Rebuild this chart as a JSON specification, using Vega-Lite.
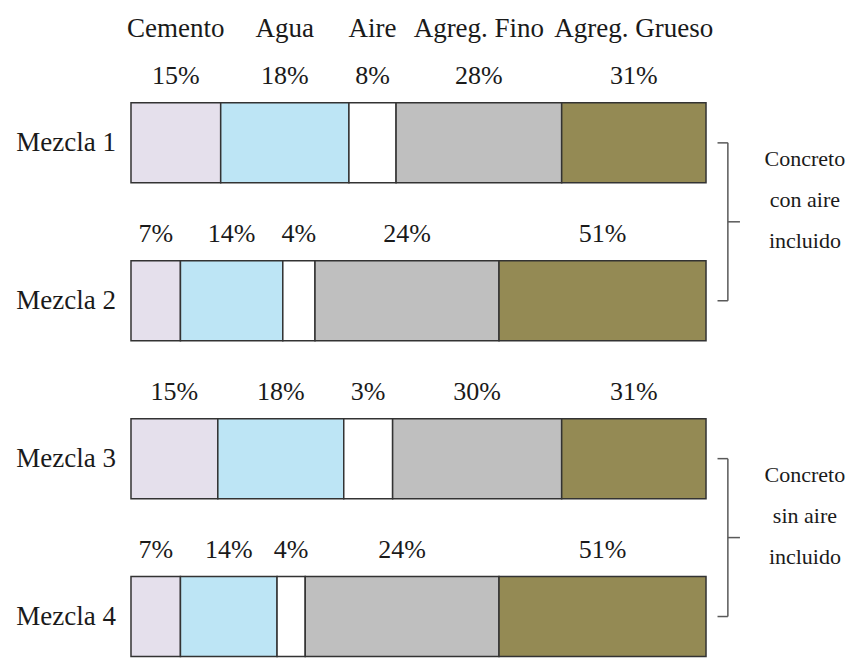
{
  "$schema": "https://vega.github.io/schema/vega-lite/v6.json",
  "width": 863,
  "height": 658,
  "padding": 0,
  "autosize": {"type": "none"},
  "background": "white",
  "config": {
    "view": {"stroke": null},
    "text": {"font": "Liberation Serif", "color": "#1a1a1a"}
  },
  "datasets": {
    "segmentos": [
      {"mezcla": 1, "componente": "Cemento", "inicio": 0, "fin": 15.6, "porcentaje": 0.15},
      {"mezcla": 1, "componente": "Agua", "inicio": 15.6, "fin": 37.9, "porcentaje": 0.18},
      {"mezcla": 1, "componente": "Aire", "inicio": 37.9, "fin": 46.1, "porcentaje": 0.08},
      {"mezcla": 1, "componente": "Agreg. Fino", "inicio": 46.1, "fin": 74.9, "porcentaje": 0.28},
      {"mezcla": 1, "componente": "Agreg. Grueso", "inicio": 74.9, "fin": 100, "porcentaje": 0.31},
      {"mezcla": 2, "componente": "Cemento", "inicio": 0, "fin": 8.6, "porcentaje": 0.07},
      {"mezcla": 2, "componente": "Agua", "inicio": 8.6, "fin": 26.4, "porcentaje": 0.14},
      {"mezcla": 2, "componente": "Aire", "inicio": 26.4, "fin": 32.0, "porcentaje": 0.04},
      {"mezcla": 2, "componente": "Agreg. Fino", "inicio": 32.0, "fin": 64.0, "porcentaje": 0.24},
      {"mezcla": 2, "componente": "Agreg. Grueso", "inicio": 64.0, "fin": 100, "porcentaje": 0.51},
      {"mezcla": 3, "componente": "Cemento", "inicio": 0, "fin": 15.1, "porcentaje": 0.15},
      {"mezcla": 3, "componente": "Agua", "inicio": 15.1, "fin": 37.0, "porcentaje": 0.18},
      {"mezcla": 3, "componente": "Aire", "inicio": 37.0, "fin": 45.5, "porcentaje": 0.03},
      {"mezcla": 3, "componente": "Agreg. Fino", "inicio": 45.5, "fin": 74.9, "porcentaje": 0.30},
      {"mezcla": 3, "componente": "Agreg. Grueso", "inicio": 74.9, "fin": 100, "porcentaje": 0.31},
      {"mezcla": 4, "componente": "Cemento", "inicio": 0, "fin": 8.6, "porcentaje": 0.07},
      {"mezcla": 4, "componente": "Agua", "inicio": 8.6, "fin": 25.4, "porcentaje": 0.14},
      {"mezcla": 4, "componente": "Aire", "inicio": 25.4, "fin": 30.3, "porcentaje": 0.04},
      {"mezcla": 4, "componente": "Agreg. Fino", "inicio": 30.3, "fin": 64.0, "porcentaje": 0.24},
      {"mezcla": 4, "componente": "Agreg. Grueso", "inicio": 64.0, "fin": 100, "porcentaje": 0.51}
    ],
    "mezclas": [
      {"mezcla": 1, "nombre": "Mezcla 1"},
      {"mezcla": 2, "nombre": "Mezcla 2"},
      {"mezcla": 3, "nombre": "Mezcla 3"},
      {"mezcla": 4, "nombre": "Mezcla 4"}
    ],
    "grupos": [
      {"grupo": "con", "desde": 1, "hasta": 2, "texto": ["Concreto", "con aire", "incluido"]},
      {"grupo": "sin", "desde": 3, "hasta": 4, "texto": ["Concreto", "sin aire", "incluido"]}
    ]
  },
  "layer": [
    {
      "data": {"name": "segmentos"},
      "mark": {"type": "bar", "size": 80, "stroke": "#333333", "strokeWidth": 1.5},
      "encoding": {
        "x": {"field": "inicio", "type": "quantitative", "axis": null, "scale": {"domain": [-22.78, 127.3], "nice": false, "zero": false}},
        "x2": {"field": "fin"},
        "y": {"field": "mezcla", "type": "quantitative", "axis": null, "scale": {"domain": [0.1268, 4.231], "nice": false, "zero": false, "reverse": true}},
        "color": {
          "field": "componente",
          "type": "nominal",
          "legend": null,
          "scale": {
            "domain": ["Cemento", "Agua", "Aire", "Agreg. Fino", "Agreg. Grueso"],
            "range": ["#E5E0EC", "#BDE5F5", "#FFFFFF", "#BFBFBF", "#948A54"]
          }
        }
      }
    },
    {
      "data": {"name": "segmentos"},
      "transform": [{"calculate": "(datum.inicio + datum.fin) / 2", "as": "medio"}],
      "mark": {"type": "text", "fontSize": 26, "baseline": "middle", "align": "center", "dy": -67},
      "encoding": {
        "x": {"field": "medio", "type": "quantitative", "axis": null, "scale": {"domain": [-22.78, 127.3], "nice": false, "zero": false}},
        "y": {"field": "mezcla", "type": "quantitative", "axis": null, "scale": {"domain": [0.1268, 4.231], "nice": false, "zero": false, "reverse": true}},
        "text": {"field": "porcentaje", "type": "quantitative", "format": ".0%"}
      }
    },
    {
      "data": {"name": "segmentos"},
      "transform": [
        {"filter": "datum.mezcla == 1"},
        {"calculate": "(datum.inicio + datum.fin) / 2", "as": "medio"}
      ],
      "mark": {"type": "text", "fontSize": 27, "baseline": "middle", "align": "center", "dy": -114},
      "encoding": {
        "x": {"field": "medio", "type": "quantitative", "axis": null, "scale": {"domain": [-22.78, 127.3], "nice": false, "zero": false}},
        "y": {"field": "mezcla", "type": "quantitative", "axis": null, "scale": {"domain": [0.1268, 4.231], "nice": false, "zero": false, "reverse": true}},
        "text": {"field": "componente", "type": "nominal"}
      }
    },
    {
      "data": {"name": "mezclas"},
      "mark": {"type": "text", "fontSize": 27, "baseline": "middle", "align": "right"},
      "encoding": {
        "x": {"datum": -2.6, "type": "quantitative", "axis": null, "scale": {"domain": [-22.78, 127.3], "nice": false, "zero": false}},
        "y": {"field": "mezcla", "type": "quantitative", "axis": null, "scale": {"domain": [0.1268, 4.231], "nice": false, "zero": false, "reverse": true}},
        "text": {"field": "nombre", "type": "nominal"}
      }
    },
    {
      "data": {"name": "grupos"},
      "mark": {"type": "rule", "stroke": "#595959", "strokeWidth": 1.5},
      "encoding": {
        "x": {"datum": 103.8, "type": "quantitative", "axis": null, "scale": {"domain": [-22.78, 127.3], "nice": false, "zero": false}},
        "y": {"field": "desde", "type": "quantitative", "axis": null, "scale": {"domain": [0.1268, 4.231], "nice": false, "zero": false, "reverse": true}},
        "y2": {"field": "hasta"}
      }
    },
    {
      "data": {"name": "grupos"},
      "mark": {"type": "rule", "stroke": "#595959", "strokeWidth": 1.5},
      "encoding": {
        "x": {"datum": 102.0, "type": "quantitative", "axis": null, "scale": {"domain": [-22.78, 127.3], "nice": false, "zero": false}},
        "x2": {"datum": 103.8},
        "y": {"field": "desde", "type": "quantitative", "axis": null, "scale": {"domain": [0.1268, 4.231], "nice": false, "zero": false, "reverse": true}}
      }
    },
    {
      "data": {"name": "grupos"},
      "mark": {"type": "rule", "stroke": "#595959", "strokeWidth": 1.5},
      "encoding": {
        "x": {"datum": 102.0, "type": "quantitative", "axis": null, "scale": {"domain": [-22.78, 127.3], "nice": false, "zero": false}},
        "x2": {"datum": 103.8},
        "y": {"field": "hasta", "type": "quantitative", "axis": null, "scale": {"domain": [0.1268, 4.231], "nice": false, "zero": false, "reverse": true}}
      }
    },
    {
      "data": {"name": "grupos"},
      "transform": [{"calculate": "(datum.desde + datum.hasta) / 2", "as": "medio"}],
      "mark": {"type": "rule", "stroke": "#595959", "strokeWidth": 1.5},
      "encoding": {
        "x": {"datum": 103.8, "type": "quantitative", "axis": null, "scale": {"domain": [-22.78, 127.3], "nice": false, "zero": false}},
        "x2": {"datum": 105.9},
        "y": {"field": "medio", "type": "quantitative", "axis": null, "scale": {"domain": [0.1268, 4.231], "nice": false, "zero": false, "reverse": true}}
      }
    },
    {
      "data": {"name": "grupos"},
      "transform": [{"calculate": "(datum.desde + datum.hasta) / 2", "as": "medio"}],
      "mark": {"type": "text", "fontSize": 22, "baseline": "middle", "align": "center", "lineHeight": 41, "dy": -63},
      "encoding": {
        "x": {"datum": 117.2, "type": "quantitative", "axis": null, "scale": {"domain": [-22.78, 127.3], "nice": false, "zero": false}},
        "y": {"field": "medio", "type": "quantitative", "axis": null, "scale": {"domain": [0.1268, 4.231], "nice": false, "zero": false, "reverse": true}},
        "text": {"field": "texto"}
      }
    }
  ]
}
